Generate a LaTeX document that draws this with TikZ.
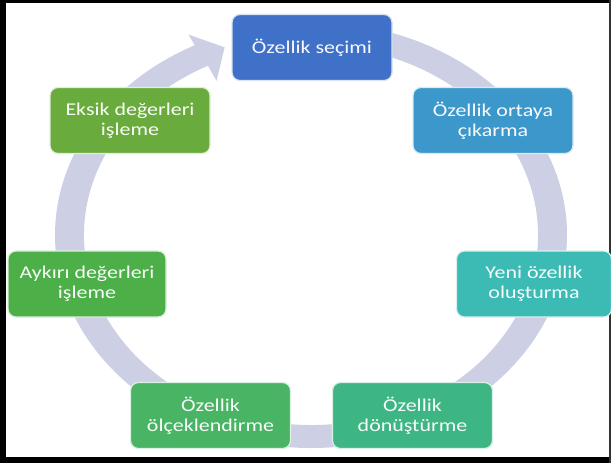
\documentclass[tikz,border=0pt]{standalone}
\usepackage{fontspec}
\setmainfont{Carlito}[FakeStretch=1.22]
\usepackage{tikz}
\usetikzlibrary{calc}

\definecolor{ringcol}{RGB}{205,208,229}
\definecolor{secc}{RGB}{64,113,201}
\definecolor{ortac}{RGB}{60,151,203}
\definecolor{yenic}{RGB}{60,186,180}
\definecolor{donc}{RGB}{61,182,132}
\definecolor{olcc}{RGB}{72,180,100}
\definecolor{aykc}{RGB}{76,175,72}
\definecolor{eksc}{RGB}{106,171,62}

\begin{document}
\begin{tikzpicture}[x=1pt,y=-1pt,thick,
  stepbox/.style={rectangle,rounded corners=8pt,draw=white!80!#1,line width=1.2pt,
    fill=#1,text=white!96!#1,align=center,minimum width=160pt,minimum height=66pt,
    inner sep=2pt,font=\fontsize{18}{20}\selectfont}]
%\draw [help lines](0,0) grid [step=50] (611,468);
\useasboundingbox (0,0) rectangle (611,468);
% frame
\fill [black] (0,0) rectangle (6,463);
\fill [black] (0,0) rectangle (611,3);
\fill [black] (0,457) rectangle (611,463);
\draw [black!80,line width=1.5pt] (610,0) -- (610,463);
% ring with arrow head
\begin{scope}[shift={(311,235)}]
\fill [ringcol] (-85:256 and 213)
  arc [start angle=-85,end angle=243,x radius=256,y radius=213]
  -- (243:270 and 225) -- (249:241 and 201) -- (243:208 and 173)
  -- (243:227 and 190)
  arc [start angle=243,end angle=-85,x radius=227,y radius=190] -- cycle;
\end{scope}
% steps
\node [stepbox=secc] (sec) at (312,47.5) {Özellik seçimi};
\node [stepbox=ortac] (ortaya) at (493,120.5) {Özellik ortaya\\çıkarma};
\node [stepbox=yenic,minimum width=155pt] (yeni) at (534,284) {Yeni özellik\\oluşturma};
\node [stepbox=donc] (donustur) at (412.5,415.5) {Özellik\\dönüştürme};
\node [stepbox=olcc] (olcek) at (210.5,415.5) {Özellik\\ölçeklendirme};
\node [stepbox=aykc,minimum width=158pt] (aykiri) at (87,284) {Aykırı değerleri\\işleme};
\node [stepbox=eksc] (eksik) at (130,120.5) {Eksik değerleri\\işleme};
\end{tikzpicture}
\end{document}
